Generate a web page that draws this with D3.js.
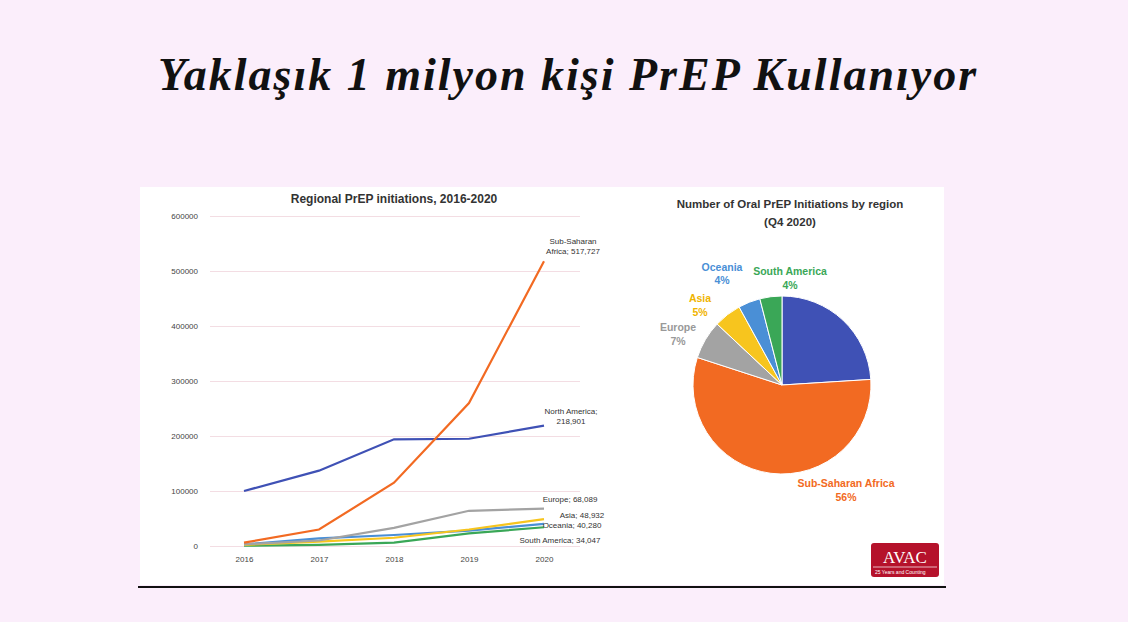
<!DOCTYPE html><html><head><meta charset="utf-8">
<script src="https://cdn.jsdelivr.net/npm/d3@7"></script>
<style>body{margin:0;background:#fbeefb;}svg{display:block}</style></head><body>
<svg id="c" width="1128" height="622"></svg>
<script>
const years=[2016,2017,2018,2019,2020];
const yTicks=[0,100000,200000,300000,400000,500000,600000];
const seriesNames=["Sub-Saharan Africa","North America","Europe","Asia","Oceania","South America"];
const ssa=[6000,30000,115000,260000,517727];
const na=[100000,137000,194000,195000,218901];
const europe=[3000,10000,33000,64000,68089];
const asia=[2000,8000,15000,30000,48932];
const oceania=[3000,14000,20000,28000,40280];
const southAm=[500,2000,6000,23000,34047];
const pieNames=["North America","Sub-Saharan Africa","Europe","Asia","Oceania","South America"];
const pieValues=[24,56,7,5,4,4];
const colors={"Sub-Saharan Africa":"#f26a22","North America":"#3f51b5","Europe":"#a3a3a3","Asia":"#f7c51e","Oceania":"#4a8fd6","South America":"#3aa757"};

const svg=d3.select("#c");
svg.append("text").attr("x",568).attr("y",90).attr("text-anchor","middle")
 .attr("font-family","Liberation Serif").attr("font-style","italic").attr("font-weight","bold")
 .attr("font-size",46).attr("letter-spacing",2).attr("fill","#111").text("Yaklaşık 1 milyon kişi PrEP Kullanıyor");
svg.append("rect").attr("x",140).attr("y",187).attr("width",804).attr("height",398).attr("fill","#fff");
svg.append("line").attr("x1",138).attr("x2",946).attr("y1",587).attr("y2",587).attr("stroke","#111").attr("stroke-width",2);

const x=d3.scalePoint().domain(years).range([244,544]);
const y=d3.scaleLinear().domain([0,600000]).range([546,216]);
const g=svg.append("g");
g.append("g").attr("transform","translate(210,0)").call(d3.axisLeft(y).tickValues(yTicks).tickSize(-370).tickFormat(d3.format("d")))
 .call(a=>{a.select(".domain").remove();a.selectAll("line").attr("stroke","#f3dde3");
  a.selectAll("text").attr("font-family","Liberation Sans").attr("font-size",8).attr("fill","#444").attr("x",-12);});
g.append("g").attr("transform","translate(0,553)").call(d3.axisBottom(x).tickSize(0))
 .call(a=>{a.select(".domain").remove();a.selectAll("text").attr("font-family","Liberation Sans").attr("font-size",8).attr("fill","#444");});
g.append("text").attr("x",394).attr("y",203).attr("text-anchor","middle").attr("font-family","Liberation Sans").attr("font-weight","bold").attr("font-size",12).attr("fill","#333").text("Regional PrEP initiations, 2016-2020");
const data={"Sub-Saharan Africa":ssa,"North America":na,"Europe":europe,"Asia":asia,"Oceania":oceania,"South America":southAm};
const line=d3.line().x((d,i)=>x(years[i])).y(d=>y(d));
["South America","Oceania","Asia","Europe","North America","Sub-Saharan Africa"].forEach(n=>{
 g.append("path").attr("d",line(data[n])).attr("fill","none").attr("stroke",colors[n]).attr("stroke-width",2.2);
});
const fmt=d3.format(",");
const labs=[["Sub-Saharan",573,244],["Africa; "+fmt(ssa[4]),573,254],["North America;",571,414],[fmt(na[4]),571,424],
 ["Europe; "+fmt(europe[4]),570,502],["Asia; "+fmt(asia[4]),582,518],["Oceania; "+fmt(oceania[4]),572,528],["South America; "+fmt(southAm[4]),560,543]];
labs.forEach(l=>g.append("text").attr("x",l[1]).attr("y",l[2]).attr("text-anchor","middle").attr("font-family","Liberation Sans").attr("font-size",8).attr("fill","#333").text(l[0]));

// pie
svg.append("text").attr("x",790).attr("y",208).attr("text-anchor","middle").attr("font-family","Liberation Sans").attr("font-weight","bold").attr("font-size",11.5).attr("fill","#333").text("Number of Oral PrEP Initiations by region");
svg.append("text").attr("x",790).attr("y",226).attr("text-anchor","middle").attr("font-family","Liberation Sans").attr("font-weight","bold").attr("font-size",11.5).attr("fill","#333").text("(Q4 2020)");
const pie=d3.pie().sort(null).value(d=>d)(pieValues);
const arc=d3.arc().innerRadius(0).outerRadius(89);
const pg=svg.append("g").attr("transform","translate(782,385)");
pg.selectAll("path").data(pie).join("path").attr("d",arc).attr("fill",(d,i)=>colors[pieNames[i]]).attr("stroke","#fff").attr("stroke-width",1);
const plabs=[["Oceania",722,271,"#4a8fd6"],["4%",722,284,"#4a8fd6"],["South America",790,275,"#3aa757"],["4%",790,289,"#3aa757"],
 ["Asia",700,302,"#f0b400"],["5%",700,316,"#f0b400"],["Europe",678,331,"#999"],["7%",678,345,"#999"],
 ["Sub-Saharan Africa",846,487,"#f26a22"],["56%",846,501,"#f26a22"]];
plabs.forEach(l=>svg.append("text").attr("x",l[1]).attr("y",l[2]).attr("text-anchor","middle").attr("font-family","Liberation Sans").attr("font-weight","bold").attr("font-size",10.5).attr("fill",l[3]).text(l[0]));
svg.append("rect").attr("x",871).attr("y",543).attr("width",68).attr("height",34).attr("rx",3).attr("fill","#b5122b");
svg.append("text").attr("x",905).attr("y",563).attr("text-anchor","middle").attr("font-family","Liberation Serif").attr("font-size",17).attr("fill","#fff").text("AVAC");
svg.append("line").attr("x1",873).attr("x2",937).attr("y1",567).attr("y2",567).attr("stroke","#fff").attr("stroke-width",0.7);
svg.append("text").attr("x",875).attr("y",574).attr("font-family","Liberation Sans").attr("font-size",5).attr("fill","#fff").text("25 Years and Counting");
</script></body></html>
